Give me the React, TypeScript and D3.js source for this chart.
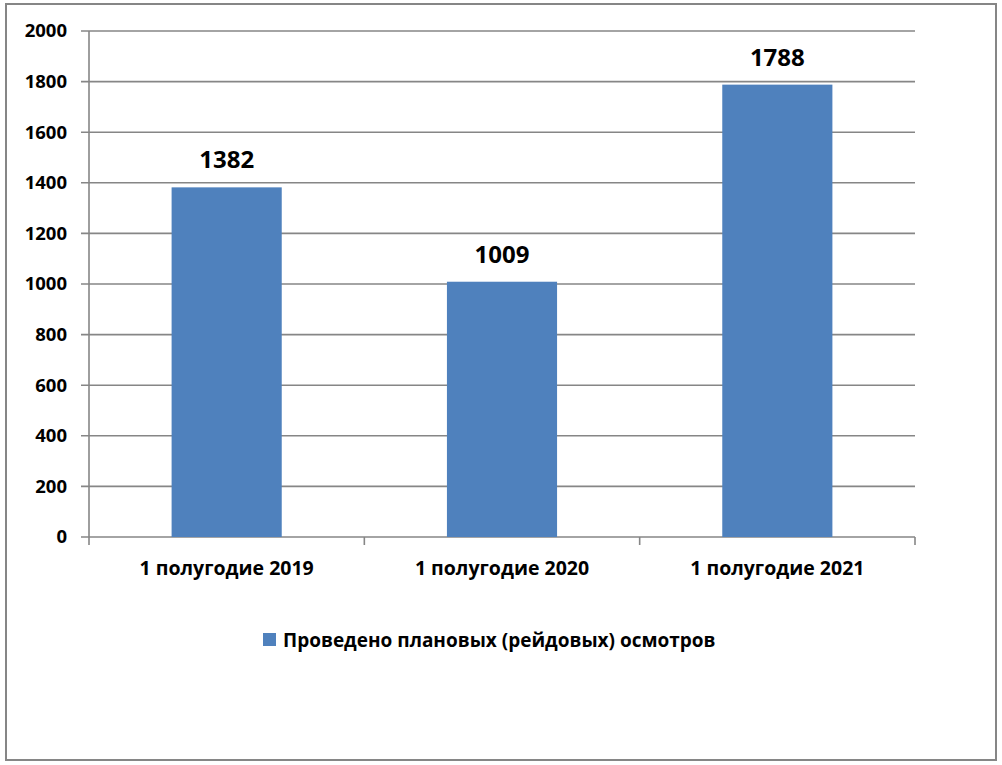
import React from "react";
import * as d3 from "d3";

const categories = ["1 полугодие 2019", "1 полугодие 2020", "1 полугодие 2021"];
const values = [1382, 1009, 1788];
const yTicks = [0, 200, 400, 600, 800, 1000, 1200, 1400, 1600, 1800, 2000];
const seriesName = "Проведено плановых (рейдовых) осмотров";

const W = 1002;
const H = 765;
const plot = { left: 89, right: 915, top: 31, bottom: 537 };
const FONT = "'Open Sans', 'Liberation Sans', sans-serif";
const GRID = "#868686";
const BAR = "#4F81BD";

export default function App() {
  const x = d3
    .scaleBand<string>()
    .domain(categories)
    .range([plot.left, plot.right])
    .paddingInner(0.6)
    .paddingOuter(0.3);
  const y = d3.scaleLinear().domain([0, 2000]).range([plot.bottom, plot.top]);
  const step = (plot.right - plot.left) / categories.length;
  const catEdges = d3.range(categories.length + 1).map((i) => plot.left + i * step);

  return (
    <svg
      width={W}
      height={H}
      style={{ position: "absolute", left: 0, top: 0, background: "#fff" }}
    >
      <rect x={0} y={0} width={W} height={H} fill="#fff" />
      <rect x={6} y={4} width={990} height={756} fill="#fff" stroke={GRID} strokeWidth={2} />
      {yTicks.map((t) => (
        <g key={t}>
          <line x1={81} x2={plot.right} y1={y(t)} y2={y(t)} stroke={GRID} strokeWidth={1.6} />
          <text
            x={67}
            y={y(t)}
            dy="0.35em"
            textAnchor="end"
            fontFamily={FONT}
            fontWeight="bold"
            fontSize={18.5}
            fill="#000"
          >
            {t}
          </text>
        </g>
      ))}
      <line x1={plot.left} x2={plot.left} y1={plot.top} y2={plot.bottom} stroke={GRID} strokeWidth={1.6} />
      {catEdges.map((e, i) => (
        <line key={i} x1={e} x2={e} y1={plot.bottom} y2={plot.bottom + 8} stroke={GRID} strokeWidth={1.6} />
      ))}
      {categories.map((c, i) => (
        <g key={c}>
          <rect
            x={x(c)!}
            y={y(values[i])}
            width={x.bandwidth()}
            height={plot.bottom - y(values[i])}
            fill={BAR}
          />
          <text
            x={x(c)! + x.bandwidth() / 2}
            y={y(values[i]) - 19}
            textAnchor="middle"
            fontFamily={FONT}
            fontWeight="bold"
            fontSize={24}
            fill="#000"
          >
            {values[i]}
          </text>
          <text
            x={x(c)! + x.bandwidth() / 2}
            y={575}
            textAnchor="middle"
            fontFamily={FONT}
            fontWeight="bold"
            fontSize={19.5}
            fill="#000"
          >
            {c}
          </text>
        </g>
      ))}
      <rect x={263} y={633} width={13} height={13} fill={BAR} />
      <text x={283} y={647} fontFamily={FONT} fontWeight="bold" fontSize={19} fill="#000">
        {seriesName}
      </text>
    </svg>
  );
}
